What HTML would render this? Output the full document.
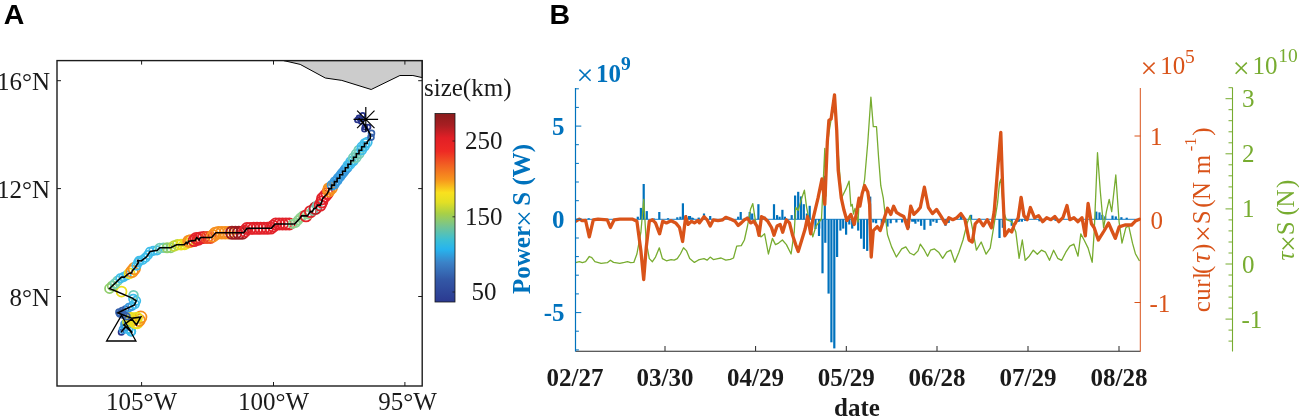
<!DOCTYPE html>
<html lang="en"><head><meta charset="utf-8"><title>Figure</title>
<style>
html,body{margin:0;padding:0;background:#fff;}
body{width:1299px;height:418px;overflow:hidden;}
svg{display:block;}
text{font-family:"Liberation Serif","Times New Roman",serif;font-size:25px;fill:#1a1a1a;}
.lbl{font-family:"Liberation Sans",Arial,sans-serif;font-weight:bold;font-size:28.5px;fill:#000;}
.b{font-weight:bold;}
.blue{fill:#0072bd;} .org{fill:#d95319;} .grn{fill:#77ac30;}
.circ circle{fill:none;stroke-width:1.75;}
</style></head><body>
<svg width="1299" height="418" viewBox="0 0 1299 418">
<rect width="1299" height="418" fill="#fff"/>
<defs>
<linearGradient id="cb" x1="0" y1="0" x2="0" y2="1">
<stop offset="0" stop-color="#8a1c1c"/><stop offset="0.06" stop-color="#a61e22"/><stop offset="0.13" stop-color="#e21f26"/><stop offset="0.2" stop-color="#ee2a24"/><stop offset="0.28" stop-color="#f26522"/><stop offset="0.35" stop-color="#f7941d"/><stop offset="0.42" stop-color="#f9e11e"/><stop offset="0.47" stop-color="#e3e024"/><stop offset="0.53" stop-color="#a9d046"/><stop offset="0.6" stop-color="#74c493"/><stop offset="0.67" stop-color="#3cbfd4"/><stop offset="0.72" stop-color="#27b4ee"/><stop offset="0.79" stop-color="#3b83c8"/><stop offset="0.88" stop-color="#3358a6"/><stop offset="1" stop-color="#2b3990"/>
</linearGradient>
<clipPath id="clipB"><rect x="575" y="88" width="566" height="263.5"/></clipPath>
</defs>

<!-- Panel A -->
<text class="lbl" x="3.8" y="24">A</text>
<polygon points="283.7,60.6 300.2,64.4 325.3,78 341.8,80.4 371.2,89.5 399.9,75.5 412.9,75.5 422.2,77.6 422.2,60.6" fill="#cccccc" stroke="#000" stroke-width="1"/>
<g class="circ">
<circle cx="121.3" cy="332.3" r="2.7" stroke="#27348b"/>
<circle cx="123.4" cy="329.4" r="3.9" stroke="#389ade"/>
<circle cx="125.7" cy="326.7" r="4.2" stroke="#3fbdea"/>
<circle cx="128.4" cy="329.2" r="4.2" stroke="#3fbdea"/>
<circle cx="131.1" cy="331.6" r="4.2" stroke="#3fbdea"/>
<circle cx="131.1" cy="331.2" r="4.2" stroke="#3fbdea"/>
<circle cx="128.6" cy="328.6" r="4.2" stroke="#3fbdea"/>
<circle cx="125.8" cy="326.4" r="3.9" stroke="#389ade"/>
<circle cx="124.9" cy="324.2" r="3.9" stroke="#389ade"/>
<circle cx="127.7" cy="322.0" r="4.8" stroke="#c3d935"/>
<circle cx="130.6" cy="319.8" r="5.0" stroke="#ecdf1f"/>
<circle cx="133.1" cy="320.6" r="5.0" stroke="#ecdf1f"/>
<circle cx="135.3" cy="323.4" r="5.0" stroke="#ecdf1f"/>
<circle cx="137.3" cy="323.4" r="5.0" stroke="#ecdf1f"/>
<circle cx="139.0" cy="320.2" r="5.8" stroke="#f6901e"/>
<circle cx="140.7" cy="317.1" r="5.8" stroke="#f6901e"/>
<circle cx="137.1" cy="317.6" r="5.0" stroke="#ecdf1f"/>
<circle cx="133.5" cy="318.1" r="5.0" stroke="#ecdf1f"/>
<circle cx="130.1" cy="317.7" r="5.0" stroke="#ecdf1f"/>
<circle cx="126.7" cy="316.4" r="3.1" stroke="#3763ad"/>
<circle cx="123.4" cy="315.0" r="3.1" stroke="#3763ad"/>
<circle cx="120.0" cy="313.7" r="3.1" stroke="#3763ad"/>
<circle cx="119.1" cy="312.3" r="3.1" stroke="#3763ad"/>
<circle cx="122.3" cy="310.7" r="3.1" stroke="#3763ad"/>
<circle cx="125.6" cy="309.2" r="3.1" stroke="#3763ad"/>
<circle cx="128.8" cy="307.6" r="3.9" stroke="#389ade"/>
<circle cx="132.1" cy="306.1" r="3.9" stroke="#389ade"/>
<circle cx="134.9" cy="304.1" r="4.2" stroke="#3fbdea"/>
<circle cx="136.1" cy="300.8" r="4.2" stroke="#3fbdea"/>
<circle cx="133.2" cy="298.7" r="4.2" stroke="#3fbdea"/>
<circle cx="133.5" cy="295.3" r="4.4" stroke="#72cdb8"/>
<circle cx="121.5" cy="291.5" r="5.0" stroke="#ecdf1f"/>
<circle cx="109.6" cy="288.5" r="4.6" stroke="#8fcd6a"/>
<circle cx="112.3" cy="285.9" r="4.6" stroke="#8fcd6a"/>
<circle cx="114.9" cy="283.4" r="4.4" stroke="#72cdb8"/>
<circle cx="117.6" cy="280.8" r="4.4" stroke="#72cdb8"/>
<circle cx="120.3" cy="278.3" r="4.2" stroke="#3fbdea"/>
<circle cx="123.5" cy="277.1" r="4.2" stroke="#3fbdea"/>
<circle cx="126.6" cy="275.3" r="4.2" stroke="#3fbdea"/>
<circle cx="129.6" cy="273.3" r="5.0" stroke="#ecdf1f"/>
<circle cx="132.1" cy="271.4" r="5.8" stroke="#f6901e"/>
<circle cx="134.3" cy="268.6" r="5.8" stroke="#f6901e"/>
<circle cx="136.5" cy="265.6" r="4.2" stroke="#3fbdea"/>
<circle cx="138.2" cy="262.4" r="4.2" stroke="#3fbdea"/>
<circle cx="139.3" cy="260.7" r="4.2" stroke="#3fbdea"/>
<circle cx="142.6" cy="260.0" r="4.2" stroke="#3fbdea"/>
<circle cx="145.5" cy="257.7" r="4.2" stroke="#3fbdea"/>
<circle cx="147.9" cy="255.0" r="4.2" stroke="#3fbdea"/>
<circle cx="149.9" cy="251.8" r="4.2" stroke="#3fbdea"/>
<circle cx="153.3" cy="250.9" r="4.2" stroke="#3fbdea"/>
<circle cx="157.0" cy="250.3" r="4.2" stroke="#3fbdea"/>
<circle cx="159.7" cy="247.9" r="4.4" stroke="#72cdb8"/>
<circle cx="163.4" cy="247.8" r="4.4" stroke="#72cdb8"/>
<circle cx="167.1" cy="247.8" r="4.6" stroke="#8fcd6a"/>
<circle cx="170.8" cy="247.7" r="4.6" stroke="#8fcd6a"/>
<circle cx="174.0" cy="246.0" r="4.8" stroke="#c3d935"/>
<circle cx="177.4" cy="244.7" r="4.8" stroke="#c3d935"/>
<circle cx="181.1" cy="244.7" r="5.0" stroke="#ecdf1f"/>
<circle cx="184.6" cy="244.3" r="5.0" stroke="#ecdf1f"/>
<circle cx="186.9" cy="243.2" r="5.0" stroke="#ecdf1f"/>
<circle cx="189.0" cy="241.3" r="5.8" stroke="#f6901e"/>
<circle cx="190.7" cy="241.0" r="5.8" stroke="#f6901e"/>
<circle cx="194.1" cy="240.6" r="5.6" stroke="#e2222a"/>
<circle cx="196.3" cy="238.4" r="5.6" stroke="#e2222a"/>
<circle cx="198.4" cy="239.2" r="5.6" stroke="#e2222a"/>
<circle cx="200.4" cy="237.9" r="5.6" stroke="#e2222a"/>
<circle cx="203.6" cy="237.5" r="5.6" stroke="#e2222a"/>
<circle cx="207.0" cy="237.5" r="5.6" stroke="#ee4b23"/>
<circle cx="210.4" cy="237.5" r="5.6" stroke="#ee4b23"/>
<circle cx="213.0" cy="235.9" r="5.8" stroke="#f6901e"/>
<circle cx="215.3" cy="233.4" r="5.8" stroke="#f6901e"/>
<circle cx="218.4" cy="232.7" r="5.8" stroke="#f6901e"/>
<circle cx="221.8" cy="232.7" r="5.8" stroke="#f6901e"/>
<circle cx="225.2" cy="232.7" r="5.8" stroke="#f6901e"/>
<circle cx="228.6" cy="232.7" r="5.8" stroke="#f6901e"/>
<circle cx="232.0" cy="232.7" r="6.1" stroke="#9c1c20"/>
<circle cx="235.4" cy="232.7" r="6.1" stroke="#9c1c20"/>
<circle cx="238.8" cy="232.7" r="6.1" stroke="#9c1c20"/>
<circle cx="242.2" cy="232.7" r="6.1" stroke="#9c1c20"/>
<circle cx="244.8" cy="231.1" r="5.6" stroke="#e2222a"/>
<circle cx="247.0" cy="228.5" r="5.6" stroke="#e2222a"/>
<circle cx="250.3" cy="228.4" r="5.6" stroke="#e2222a"/>
<circle cx="253.7" cy="228.3" r="5.6" stroke="#e2222a"/>
<circle cx="257.1" cy="228.3" r="5.6" stroke="#e2222a"/>
<circle cx="260.5" cy="228.2" r="5.6" stroke="#e2222a"/>
<circle cx="263.9" cy="228.2" r="5.6" stroke="#e2222a"/>
<circle cx="267.3" cy="228.2" r="5.6" stroke="#e2222a"/>
<circle cx="270.7" cy="228.1" r="5.6" stroke="#e2222a"/>
<circle cx="273.2" cy="226.1" r="5.6" stroke="#e2222a"/>
<circle cx="275.7" cy="224.0" r="5.6" stroke="#e2222a"/>
<circle cx="279.1" cy="224.0" r="5.6" stroke="#e2222a"/>
<circle cx="282.5" cy="224.0" r="5.6" stroke="#e2222a"/>
<circle cx="285.9" cy="224.0" r="5.6" stroke="#e2222a"/>
<circle cx="289.3" cy="224.0" r="5.6" stroke="#e2222a"/>
<circle cx="292.7" cy="224.0" r="4.2" stroke="#8fd28f"/>
<circle cx="295.6" cy="222.9" r="4.2" stroke="#8fd28f"/>
<circle cx="297.9" cy="220.4" r="4.2" stroke="#8fd28f"/>
<circle cx="300.2" cy="217.8" r="4.2" stroke="#8fd28f"/>
<circle cx="302.6" cy="215.9" r="4.2" stroke="#8fd28f"/>
<circle cx="306.0" cy="215.9" r="5.6" stroke="#e2222a"/>
<circle cx="308.5" cy="214.3" r="4.2" stroke="#8fd28f"/>
<circle cx="310.5" cy="211.6" r="5.6" stroke="#e2222a"/>
<circle cx="313.1" cy="210.2" r="4.4" stroke="#72cdb8"/>
<circle cx="315.4" cy="208.2" r="5.8" stroke="#bb1e24"/>
<circle cx="317.2" cy="205.5" r="4.4" stroke="#72cdb8"/>
<circle cx="320.3" cy="205.1" r="5.6" stroke="#e2222a"/>
<circle cx="321.8" cy="202.0" r="5.6" stroke="#e2222a"/>
<circle cx="322.5" cy="198.7" r="5.6" stroke="#e2222a"/>
<circle cx="324.9" cy="196.2" r="5.6" stroke="#e2222a"/>
<circle cx="327.1" cy="193.7" r="5.6" stroke="#e2222a"/>
<circle cx="328.8" cy="190.7" r="5.8" stroke="#f6901e"/>
<circle cx="329.0" cy="188.6" r="5.5" stroke="#f6901e"/>
<circle cx="331.6" cy="188.0" r="5.5" stroke="#f6901e"/>
<circle cx="332.0" cy="185.1" r="4.5" stroke="#389ade"/>
<circle cx="334.4" cy="184.2" r="4.5" stroke="#389ade"/>
<circle cx="335.0" cy="181.6" r="4.5" stroke="#389ade"/>
<circle cx="337.1" cy="180.5" r="4.5" stroke="#389ade"/>
<circle cx="338.1" cy="178.2" r="4.5" stroke="#389ade"/>
<circle cx="339.8" cy="176.7" r="4.5" stroke="#389ade"/>
<circle cx="341.1" cy="174.7" r="4.5" stroke="#389ade"/>
<circle cx="342.6" cy="172.9" r="4.5" stroke="#389ade"/>
<circle cx="344.1" cy="171.2" r="4.5" stroke="#389ade"/>
<circle cx="345.3" cy="169.2" r="4.5" stroke="#389ade"/>
<circle cx="347.1" cy="167.7" r="4.5" stroke="#389ade"/>
<circle cx="348.0" cy="165.4" r="4.6" stroke="#3fbdea"/>
<circle cx="350.1" cy="164.2" r="4.6" stroke="#3fbdea"/>
<circle cx="350.8" cy="161.6" r="4.6" stroke="#3fbdea"/>
<circle cx="353.2" cy="160.8" r="4.6" stroke="#3fbdea"/>
<circle cx="353.5" cy="157.9" r="4.7" stroke="#72cdb8"/>
<circle cx="356.2" cy="157.3" r="4.7" stroke="#72cdb8"/>
<circle cx="356.3" cy="154.1" r="4.7" stroke="#72cdb8"/>
<circle cx="359.0" cy="153.6" r="4.7" stroke="#72cdb8"/>
<circle cx="359.0" cy="150.3" r="4.7" stroke="#72cdb8"/>
<circle cx="361.7" cy="149.8" r="4.6" stroke="#3fbdea"/>
<circle cx="362.0" cy="146.8" r="4.6" stroke="#3fbdea"/>
<circle cx="364.5" cy="146.1" r="4.6" stroke="#3fbdea"/>
<circle cx="365.0" cy="143.4" r="4.6" stroke="#3fbdea"/>
<circle cx="367.2" cy="142.3" r="4.6" stroke="#3fbdea"/>
<circle cx="371.0" cy="137.3" r="2.9" stroke="#3763ad"/>
<circle cx="371.5" cy="133.3" r="2.9" stroke="#3763ad"/>
<circle cx="368.1" cy="126.9" r="2.4" stroke="#27348b"/>
<circle cx="364.9" cy="126.9" r="2.4" stroke="#27348b"/>
<circle cx="364.4" cy="129.2" r="2.4" stroke="#27348b"/>
<circle cx="361.1" cy="121.5" r="2.4" stroke="#27348b"/>
<circle cx="357.4" cy="119.9" r="2.4" stroke="#27348b"/>
<circle cx="359.0" cy="117.7" r="2.4" stroke="#27348b"/>
<circle cx="362.7" cy="115.2" r="2.4" stroke="#27348b"/>
<circle cx="360.5" cy="119.0" r="2.4" stroke="#27348b"/>
</g>
<path d="M121.3,332.3 L122.1,330.9 L125.7,326.7 L132.3,332.7 L129.9,329.7 L123.9,324.9 L131.7,318.9 L136.5,324.9 L140.7,317.1 L131.7,318.3 L117.9,312.9 L126.3,308.8 L134.5,305.0 L136.2,300.9 L132.3,298.1 L109.6,288.5 L121.5,277.1 L124.5,277.1 L128.7,273.5 L131.7,272.9 L132.3,270.6 L134.7,268.2 L138.3,262.8 L137.7,260.4 L141.3,261.0 L146.7,256.8 L150.2,251.4 L157.4,250.2 L159.8,247.8 L170.6,247.8 L176.6,244.7 L184.3,244.7 L186.2,242.3 L187.2,243.7 L188.6,241.3 L195.3,240.4 L196.7,237.5 L199.1,239.9 L200.6,237.5 L211.6,237.5 L215.9,232.7 L243.6,232.7 L247.0,228.4 L271.5,228.1 L275.1,224.0 L294.5,224.0 L299.5,218.7 L301.6,215.9 L307.4,215.9 L310.3,211.6 L312.4,211.6 L313.8,208.7 L316.0,208.0 L317.4,205.1 L320.3,205.1 L321.7,202.2 L322.5,198.6 L325.3,195.8 L326.8,194.3 L328.9,190.5 L328.9,188.6 L331.6,188.6 L331.6,187.0 L331.6,185.1 L334.4,185.1 L334.4,183.5 L334.4,181.6 L337.1,181.6 L337.1,180.1 L337.1,178.2 L339.8,178.2 L339.8,176.6 L339.8,174.7 L342.6,174.7 L342.6,173.1 L342.6,171.2 L345.3,171.2 L345.3,169.6 L345.3,167.7 L348.0,167.7 L348.0,166.2 L348.0,164.2 L350.8,164.2 L350.8,162.7 L350.8,160.8 L353.5,160.8 L353.5,159.2 L353.5,157.3 L356.3,157.3 L356.3,155.7 L356.3,153.8 L359.0,153.8 L359.0,152.2 L359.0,150.3 L361.7,150.3 L361.7,148.8 L361.7,146.8 L364.5,146.8 L364.5,145.3 L364.5,143.4 L367.2,143.4 L367.2,141.8 L370.3,138.5 L370.3,134.4 L366.0,126.9 L361.1,120.4 L358.6,118.3" fill="none" stroke="#000" stroke-width="1.6" stroke-linejoin="miter"/>
<polygon points="106.6,341 135.9,341 121.5,315.3" fill="none" stroke="#000" stroke-width="1.3"/>
<path d="M353.5,119.4 h24.6 M365.8,107.1 v24.4 M357.1,110.7 l17.4,17.4 M374.5,110.7 l-17.4,17.4" stroke="#000" stroke-width="1.2" fill="none"/>
<rect x="57" y="60.6" width="365.2" height="325.4" fill="none" stroke="#1c1c1c" stroke-width="1.4"/>
<path d="M141.6,386 v-4 M141.6,60.6 v4 M273.5,386 v-4 M273.5,60.6 v4 M404.9,386 v-4 M404.9,60.6 v4 M57,80.7 h4 M422.2,80.7 h-4 M57,188.6 h4 M422.2,188.6 h-4 M57,296.5 h4 M422.2,296.5 h-4" stroke="#1a1a1a" stroke-width="1" fill="none"/>
<text x="50" y="89.7" text-anchor="end">16°N</text>
<text x="50" y="197.6" text-anchor="end">12°N</text>
<text x="50" y="305.5" text-anchor="end">8°N</text>
<text x="141.6" y="409.8" text-anchor="middle">105°W</text>
<text x="273.5" y="409.8" text-anchor="middle">100°W</text>
<text x="407.5" y="409.8" text-anchor="middle">95°W</text>
<!-- colourbar -->
<text x="424" y="95.5">size(km)</text>
<rect x="435" y="113.5" width="20" height="188.5" fill="url(#cb)" stroke="#1a1a1a" stroke-width="0.8"/>
<path d="M455,141 h-2.5 M455,216.8 h-2.5 M455,292 h-2.5" stroke="#1a1a1a" stroke-width="0.8"/>
<text x="465" y="148.9">250</text>
<text x="465" y="224.8">150</text>
<text x="471.5" y="300.2">50</text>

<!-- Panel B -->
<text class="lbl" x="549.6" y="24">B</text>
<g clip-path="url(#clipB)">
<g fill="#0072bd">
<rect x="587.6" y="218.2" width="2.2" height="1.1"/>
<rect x="636.7" y="216.7" width="2.2" height="2.6"/>
<rect x="639.8" y="207.9" width="2.2" height="11.4"/>
<rect x="642.6" y="184.0" width="2.2" height="35.3"/>
<rect x="645.7" y="211.1" width="2.2" height="8.2"/>
<rect x="652.9" y="218.5" width="2.2" height="0.8"/>
<rect x="658.2" y="212.0" width="2.2" height="7.3"/>
<rect x="666.9" y="218.2" width="2.2" height="1.1"/>
<rect x="676.2" y="217.3" width="2.2" height="2.0"/>
<rect x="679.3" y="216.7" width="2.2" height="2.6"/>
<rect x="681.8" y="203.3" width="2.2" height="16.0"/>
<rect x="684.9" y="215.1" width="2.2" height="4.2"/>
<rect x="688.0" y="216.0" width="2.2" height="3.3"/>
<rect x="691.1" y="217.6" width="2.2" height="1.7"/>
<rect x="688.9" y="216.0" width="2.2" height="3.3"/>
<rect x="692.0" y="218.2" width="2.2" height="1.1"/>
<rect x="697.6" y="217.6" width="2.2" height="1.7"/>
<rect x="702.9" y="213.5" width="2.2" height="5.8"/>
<rect x="709.1" y="216.0" width="2.2" height="3.3"/>
<rect x="721.6" y="218.2" width="2.2" height="1.1"/>
<rect x="737.1" y="216.7" width="2.2" height="2.6"/>
<rect x="739.6" y="212.0" width="2.2" height="7.3"/>
<rect x="746.4" y="216.7" width="2.2" height="2.6"/>
<rect x="748.6" y="212.0" width="2.2" height="7.3"/>
<rect x="751.1" y="213.5" width="2.2" height="5.8"/>
<rect x="757.3" y="204.2" width="2.2" height="15.1"/>
<rect x="763.5" y="216.7" width="2.2" height="2.6"/>
<rect x="772.9" y="204.2" width="2.2" height="15.1"/>
<rect x="776.0" y="215.1" width="2.2" height="4.2"/>
<rect x="778.5" y="216.7" width="2.2" height="2.6"/>
<rect x="781.3" y="209.8" width="2.2" height="9.5"/>
<rect x="783.8" y="216.7" width="2.2" height="2.6"/>
<rect x="790.6" y="215.1" width="2.2" height="4.2"/>
<rect x="794.0" y="195.5" width="2.2" height="23.8"/>
<rect x="797.1" y="191.8" width="2.2" height="27.5"/>
<rect x="799.9" y="196.4" width="2.2" height="22.9"/>
<rect x="802.7" y="204.2" width="2.2" height="15.1"/>
<rect x="805.8" y="213.5" width="2.2" height="5.8"/>
<rect x="808.6" y="205.8" width="2.2" height="13.5"/>
<rect x="814.4" y="219.3" width="2.2" height="9.7"/>
<rect x="817.9" y="219.3" width="2.2" height="16.7"/>
<rect x="818.1" y="219.3" width="2.2" height="9.3"/>
<rect x="821.4" y="219.3" width="2.2" height="54.0"/>
<rect x="824.2" y="219.3" width="2.2" height="23.5"/>
<rect x="827.5" y="219.3" width="2.2" height="74.3"/>
<rect x="830.3" y="219.3" width="2.2" height="123.0"/>
<rect x="833.2" y="219.3" width="2.2" height="129.1"/>
<rect x="836.0" y="219.3" width="2.2" height="37.7"/>
<rect x="839.3" y="219.3" width="2.2" height="11.3"/>
<rect x="842.1" y="219.3" width="2.2" height="9.3"/>
<rect x="845.0" y="219.3" width="2.2" height="15.4"/>
<rect x="848.2" y="219.3" width="2.2" height="5.2"/>
<rect x="851.1" y="219.3" width="2.2" height="9.3"/>
<rect x="853.9" y="219.3" width="2.2" height="5.2"/>
<rect x="857.1" y="219.3" width="2.2" height="11.3"/>
<rect x="860.0" y="219.3" width="2.2" height="19.4"/>
<rect x="862.8" y="219.3" width="2.2" height="29.6"/>
<rect x="866.1" y="219.3" width="2.2" height="31.6"/>
<rect x="868.9" y="219.3" width="2.2" height="5.2"/>
<rect x="872.2" y="219.3" width="2.2" height="3.2"/>
<rect x="875.0" y="219.3" width="2.2" height="4.0"/>
<rect x="880.7" y="219.3" width="2.2" height="4.8"/>
<rect x="883.6" y="219.3" width="2.2" height="3.2"/>
<rect x="886.4" y="219.3" width="2.2" height="7.3"/>
<rect x="889.6" y="219.3" width="2.2" height="4.0"/>
<rect x="895.3" y="219.3" width="2.2" height="3.2"/>
<rect x="901.0" y="219.3" width="2.2" height="3.2"/>
<rect x="906.7" y="219.3" width="2.2" height="2.4"/>
<rect x="912.8" y="219.3" width="2.2" height="2.4"/>
<rect x="823.7" y="175.8" width="2.2" height="43.5"/>
<rect x="869.1" y="196.6" width="2.2" height="22.7"/>
<rect x="907.8" y="219.3" width="2.2" height="8.5"/>
<rect x="911.1" y="219.3" width="2.2" height="2.4"/>
<rect x="914.3" y="219.3" width="2.2" height="4.4"/>
<rect x="917.2" y="219.3" width="2.2" height="2.4"/>
<rect x="920.0" y="219.3" width="2.2" height="6.5"/>
<rect x="923.3" y="219.3" width="2.2" height="10.5"/>
<rect x="929.4" y="219.3" width="2.2" height="6.5"/>
<rect x="932.2" y="219.3" width="2.2" height="2.4"/>
<rect x="935.5" y="219.3" width="2.2" height="3.6"/>
<rect x="944.4" y="219.3" width="2.2" height="6.5"/>
<rect x="947.6" y="219.3" width="2.2" height="3.6"/>
<rect x="959.8" y="215.6" width="2.2" height="3.7"/>
<rect x="970.0" y="214.8" width="2.2" height="4.5"/>
<rect x="998.4" y="219.3" width="2.2" height="18.7"/>
<rect x="1001.7" y="219.3" width="2.2" height="8.5"/>
<rect x="1010.6" y="219.3" width="2.2" height="6.5"/>
<rect x="1016.7" y="219.3" width="2.2" height="2.4"/>
<rect x="1020.8" y="219.3" width="2.2" height="2.4"/>
<rect x="1018.0" y="219.3" width="2.2" height="2.4"/>
<rect x="1024.1" y="219.3" width="2.2" height="1.6"/>
<rect x="1038.3" y="219.3" width="2.2" height="2.0"/>
<rect x="1054.5" y="219.3" width="2.2" height="1.6"/>
<rect x="1095.2" y="211.6" width="2.2" height="7.7"/>
<rect x="1098.4" y="212.4" width="2.2" height="6.9"/>
<rect x="1101.2" y="214.8" width="2.2" height="4.5"/>
<rect x="1104.1" y="216.4" width="2.2" height="2.9"/>
<rect x="1111.4" y="215.6" width="2.2" height="3.7"/>
<rect x="1114.7" y="216.4" width="2.2" height="2.9"/>
<rect x="1120.3" y="217.2" width="2.2" height="2.1"/>
<rect x="1125.6" y="217.7" width="2.2" height="1.6"/>
</g>
<path d="M575.5,219.3 H1140.5" stroke="#0072bd" stroke-width="0.9"/>
<polyline points="575.6,262.7 579.3,261.7 582.4,262.7 585.6,261.7 589.3,256.5 591.8,257.7 594.9,261.7 601.1,263.3 607.3,262.7 610.4,260.2 613.5,262.4 619.8,263.3 624.4,262.4 627.5,261.7 630.6,262.7 633.8,262.4 636.9,254.0 640.9,232.2 643.7,199.5 646.2,241.5 649.3,258.6 652.4,261.7 655.5,257.1 659.3,247.8 662.4,258.6 666.4,260.8 671.1,259.6 674.2,260.2 677.3,258.6 680.4,254.0 683.5,247.8 686.6,250.9 689.7,258.6 694.4,262.4 698.1,260.2 699.3,259.6 704.0,258.6 707.1,260.2 710.2,257.1 713.3,259.6 718.0,258.6 721.1,258.0 725.8,260.2 730.4,259.3 733.5,258.0 736.7,246.2 741.3,245.6 744.4,240.0 747.5,226.0 750.6,208.9 752.8,203.6 755.3,219.8 758.4,232.2 760.9,236.9 764.6,233.8 768.4,254.0 772.4,238.4 775.5,244.6 778.6,243.1 782.4,240.0 786.4,244.6 791.1,254.0 794.2,232.2 795.7,207.3 798.2,210.4 801.3,199.5 804.4,190.2 806.6,207.3 809.7,222.9 812.8,236.9 816.0,226.0 821.5,219.0 824.8,148.4 826.0,196.0 826.4,154.6 828.9,132.9 832.0,114.2 835.0,108.0 838.0,150.0 841.5,198.0 846.0,188.9 849.1,181.1 850.9,206.2 852.2,204.4 853.5,214.0 855.0,208.3 858.0,222.0 859.1,202.2 861.0,200.0 864.6,179.5 867.8,142.2 870.9,97.1 873.3,126.7 876.5,126.7 878.6,157.8 880.8,185.7 883.3,198.2 887.5,234.7 891.6,246.9 896.4,257.0 901.7,248.9 905.8,246.9 909.8,253.0 913.9,255.0 918.0,250.9 920.3,244.1 924.4,250.2 927.6,256.2 930.5,250.2 934.5,248.9 938.6,252.2 942.7,258.3 946.7,252.2 950.8,250.2 954.8,262.3 958.9,252.2 963.0,240.0 967.0,223.8 969.9,215.6 973.1,231.9 976.4,250.2 981.2,242.0 986.1,254.2 990.2,248.1 994.2,223.8 997.5,203.4 999.5,183.1 1000.8,179.1 1003.6,211.6 1006.4,219.7 1011.7,221.7 1015.8,231.9 1019.1,258.3 1022.3,240.0 1025.2,260.3 1029.2,256.2 1033.3,250.2 1037.3,254.2 1041.4,250.2 1045.5,252.2 1049.5,260.3 1053.6,250.2 1057.7,258.3 1061.7,260.3 1065.8,252.2 1069.8,246.1 1073.9,244.1 1078.0,256.2 1080.8,233.9 1084.1,240.0 1088.1,248.1 1092.2,262.3 1094.2,231.9 1097.5,152.7 1100.3,191.2 1103.6,227.8 1106.4,211.6 1109.2,199.4 1111.7,211.6 1115.8,175.0 1119.1,222.0 1122.0,243.2 1125.8,227.8 1128.7,225.9 1132.5,243.2 1135.4,253.7 1139.5,261.0" fill="none" stroke="#77ac30" stroke-width="1.3" stroke-linejoin="round"/>
<polyline points="575.6,221.3 579.3,219.1 582.4,220.7 585.6,220.4 589.3,236.9 593.3,219.8 598.0,219.1 607.3,219.8 610.4,227.5 614.2,219.8 619.8,219.1 632.2,219.1 636.9,221.3 640.9,250.9 643.7,279.5 646.2,247.8 649.3,221.3 652.4,219.8 655.5,222.9 659.6,233.8 662.7,221.3 666.4,222.9 671.1,220.7 675.7,222.9 679.5,227.5 682.6,241.5 685.7,216.7 688.2,224.4 691.3,221.3 694.4,222.9 698.1,220.4 699.3,222.9 704.0,216.7 707.1,219.8 710.2,226.0 713.3,219.8 718.0,220.7 722.7,219.8 725.8,217.3 730.4,219.1 735.1,221.3 738.2,225.4 741.3,222.9 744.4,219.8 747.5,218.2 750.6,222.9 753.8,221.3 756.9,226.0 759.0,235.3 761.5,216.7 764.6,218.2 767.8,221.3 771.5,227.5 774.0,235.3 777.1,226.0 780.2,224.4 782.7,232.2 786.4,219.8 789.5,222.9 792.6,235.3 795.7,244.6 798.2,251.5 801.3,241.5 805.1,229.1 807.6,216.7 810.7,233.8 812.8,219.8 818.0,198.2 822.0,178.9 824.8,204.4 827.3,142.2 828.9,120.4 831.1,118.9 834.5,94.9 836.7,129.8 838.2,170.2 841.3,198.2 844.0,210.3 846.9,220.5 850.9,214.4 854.2,224.5 857.0,210.3 859.0,198.2 859.9,206.2 862.2,193.5 864.6,185.7 867.8,192.0 869.6,204.4 871.2,257.0 873.3,230.6 877.3,226.6 880.2,230.6 884.2,218.4 887.5,208.3 890.8,214.4 893.6,206.2 896.4,212.3 899.7,214.4 903.8,216.4 907.8,228.6 910.7,206.2 913.9,214.4 918.0,210.3 920.3,207.5 924.4,187.2 928.4,207.5 932.5,213.6 936.6,209.5 940.6,215.6 945.5,223.8 948.8,217.7 952.8,219.7 956.9,217.7 960.9,213.6 965.0,219.7 969.1,240.0 972.3,242.0 975.2,223.8 979.2,219.7 983.3,225.8 987.3,219.7 991.4,227.8 994.2,211.6 997.5,170.9 1000.8,132.3 1002.8,191.2 1004.8,235.9 1008.9,229.8 1011.7,231.9 1014.6,223.8 1015.0,223.8 1018.2,217.7 1021.1,197.3 1023.9,215.6 1027.2,219.7 1030.4,207.5 1034.5,217.7 1038.6,215.6 1042.6,221.7 1046.7,217.7 1050.8,219.7 1054.8,216.4 1058.9,221.7 1062.9,217.7 1067.0,205.5 1069.8,219.7 1073.9,217.7 1078.0,221.7 1082.0,217.7 1085.3,235.9 1088.1,203.4 1091.4,223.8 1094.2,227.8 1098.3,240.0 1100.0,237.4 1104.0,231.0 1108.6,223.1 1112.0,231.0 1115.3,238.4 1119.1,226.9 1124.9,225.0 1131.6,225.0 1135.4,221.1 1139.5,219.2" fill="none" stroke="#d95319" stroke-width="3.3" stroke-linejoin="round" stroke-linecap="round"/>
</g>
<!-- axes -->
<path d="M575.5,351.2 H1140.5" stroke="#262626" stroke-width="1.1"/>
<path d="M575.5,351 v-5 M665,351 v-5 M755.6,351 v-5 M846.3,351 v-5 M937,351 v-5 M1028,351 v-5 M1119,351 v-5" stroke="#262626" stroke-width="1"/>
<path d="M575.5,88 V351.5" stroke="#0072bd" stroke-width="1.2"/>
<path d="M575.5,349.9 h3.4 M575.5,331.2 h3.4 M575.5,312.6 h5.8 M575.5,293.9 h3.4 M575.5,275.2 h3.4 M575.5,256.6 h3.4 M575.5,238.0 h3.4 M575.5,219.3 h5.8 M575.5,200.7 h3.4 M575.5,182.0 h3.4 M575.5,163.4 h3.4 M575.5,144.7 h3.4 M575.5,126.1 h5.8 M575.5,107.4 h3.4 M575.5,88.8 h3.4" stroke="#0072bd" stroke-width="1"/>
<path d="M1140.3,88 V351.5" stroke="#d95319" stroke-width="1"/>
<path d="M1140.5,136 h-6 M1140.5,219.5 h-6 M1140.5,302.5 h-6" stroke="#d95319" stroke-width="1"/>
<path d="M1232.5,87.5 V351.5" stroke="#77ac30" stroke-width="1.1"/>
<path d="M1232.5,319.1 h-7 M1232.5,264.0 h-7 M1232.5,208.9 h-7 M1232.5,153.8 h-7 M1232.5,98.7 h-7 M1232.5,341.1 h-4 M1232.5,330.1 h-4 M1232.5,308.1 h-4 M1232.5,297.1 h-4 M1232.5,286.0 h-4 M1232.5,275.0 h-4 M1232.5,253.0 h-4 M1232.5,242.0 h-4 M1232.5,230.9 h-4 M1232.5,219.9 h-4 M1232.5,197.9 h-4 M1232.5,186.9 h-4 M1232.5,175.8 h-4 M1232.5,164.8 h-4 M1232.5,142.8 h-4 M1232.5,131.8 h-4 M1232.5,120.7 h-4 M1232.5,109.7 h-4 M1232.5,87.7 h-4" stroke="#77ac30" stroke-width="1"/>
<!-- left labels -->
<text class="blue"><tspan font-size="30" x="576.4" y="85.3">×</tspan><tspan class="b" x="596" y="81.5">10</tspan><tspan class="b" font-size="19.5" x="621" y="70.1">9</tspan></text>
<text class="b blue" x="564.5" y="134.7" text-anchor="end">5</text>
<text class="b blue" x="564.5" y="227.9" text-anchor="end">0</text>
<text class="b blue" x="564.5" y="321.2" text-anchor="end">-5</text>
<text class="b blue" transform="translate(530.2,293.7) rotate(-90)"><tspan x="-0.3" y="0">Power</tspan><tspan font-weight="normal" font-size="30" x="66.6" y="3.6">×</tspan><tspan x="88" y="0">S (W)</tspan></text>
<!-- x labels -->
<g class="b" text-anchor="middle">
<text x="575" y="385.7">02/27</text>
<text x="665" y="385.7">03/30</text>
<text x="755.6" y="385.7">04/29</text>
<text x="846.3" y="385.7">05/29</text>
<text x="937" y="385.7">06/28</text>
<text x="1028" y="385.7">07/29</text>
<text x="1119" y="385.7">08/28</text>
<text x="857" y="416.2">date</text>
</g>
<!-- orange labels -->
<text class="org"><tspan font-size="30" x="1140.5" y="77.9">×</tspan><tspan x="1160.3" y="74.3">10</tspan><tspan font-size="19.5" x="1185" y="62.7">5</tspan></text>
<text class="org" x="1150" y="145">1</text>
<text class="org" x="1150.5" y="228.6">0</text>
<text class="org" x="1149.5" y="311.5">-1</text>
<text class="org" transform="translate(1209.5,312.3) rotate(-90)"><tspan x="0" letter-spacing="0.5">curl</tspan><tspan x="38.3">(</tspan><tspan x="49.5" font-style="italic" font-size="27">τ</tspan><tspan x="60.3">)</tspan><tspan x="70.3" y="3.6" font-size="30">×</tspan><tspan x="88" y="0">S</tspan><tspan x="104.5">(</tspan><tspan x="112.3">N</tspan><tspan x="138">m</tspan><tspan x="161" y="-14" font-size="16.5">-1</tspan><tspan x="176.5" y="0">)</tspan></text>
<!-- green labels -->
<text class="grn"><tspan font-size="30" x="1232.8" y="77.9">×</tspan><tspan x="1252.6" y="74.3">10</tspan><tspan font-size="19.5" x="1278.3" y="62.1">10</tspan></text>
<text class="grn" x="1242" y="107.3">3</text>
<text class="grn" x="1242" y="162.3">2</text>
<text class="grn" x="1242" y="217.4">1</text>
<text class="grn" x="1242" y="272.5">0</text>
<text class="grn" x="1241.5" y="327.6">-1</text>
<text class="grn" transform="translate(1294.2,260.5) rotate(-90)"><tspan x="0" font-style="italic">τ</tspan><tspan x="8.4" y="3.6" font-size="30">×</tspan><tspan x="25.3" y="0">S</tspan><tspan x="45">(</tspan><tspan x="53">N</tspan><tspan x="72.5">)</tspan></text>
</svg>
</body></html>
